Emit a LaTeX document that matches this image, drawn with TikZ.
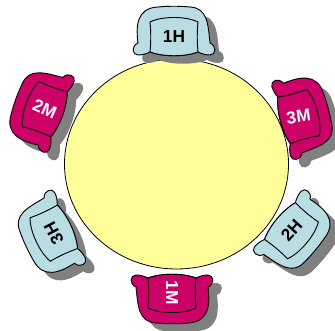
\documentclass[tikz,border=0pt]{standalone}
\usepackage{fontspec}
\setmainfont{Liberation Sans}
\usetikzlibrary{shapes.geometric}
\definecolor{tablefill}{HTML}{FFFF99}
\definecolor{seatblue}{HTML}{B8DEE4}
\definecolor{seatred}{HTML}{CC0066}
\definecolor{shadowgray}{HTML}{808080}
\newcommand{\chairoutline}{(-24,17) .. controls (-28,19) and (-32,20) .. (-36,20)
  .. controls (-42,20) and (-43,11) .. (-36,8)
  .. controls (-38,-8) and (-38,-27) .. (-16,-28)
  .. controls (-6,-29) and (6,-29) .. (16,-28)
  .. controls (34,-27) and (34,-10) .. (36,8)
  .. controls (43,11) and (42,20) .. (36,20)
  .. controls (32,20) and (28,19) .. (24,17)
  .. controls (10,22) and (-10,22) .. (-24,17) -- cycle}
\newcommand{\chairseat}{(-24,-13) .. controls (-12,-19) and (12,-19) .. (24,-13)
  .. controls (23,-3) and (23,7) .. (24,17)
  .. controls (10,22) and (-10,22) .. (-24,17)
  .. controls (-23,7) and (-23,-3) .. (-24,-13) -- cycle}

\begin{document}
\begin{tikzpicture}[x=0.75pt,y=-0.75pt,font=\bfseries\fontsize{13}{13}\selectfont]
  \tikzstyle{chairH}=[draw=black, line width=0.7pt, fill=seatblue]
  \tikzstyle{chairM}=[draw=black, line width=0.7pt, fill=seatred]
  \tikzstyle{chairshadow}=[fill=shadowgray, draw=none]
  \tikzstyle{textH}=[text=black, inner sep=0pt]
  \tikzstyle{textM}=[text=white, inner sep=0pt]
  \tikzstyle{roundtable}=[draw=black, line width=0.6pt, fill=tablefill, ellipse, minimum width=168pt, minimum height=157.5pt, inner sep=0pt]

  \path[use as bounding box] (0,0) rectangle (335,331);

  \node[roundtable] (table) at (176.5,164) {};

  % name/x/y/chair angle/text angle/label/kind
  \foreach \name/\px/\py/\rot/\txt/\lab/\kind in {
      oneH/174/35/0/0/1H/H,
      threeM/300.5/116/-75/8/3M/M,
      twoH/293/232/-130/48/2H/H,
      oneM/172/295/180/-90/1M/M,
      threeH/52/234/115/118/3H/H,
      twoM/43/108.5/70/-24/2M/M} {
    \begin{scope}[shift={(\px+9,\py+8)},rotate=\rot]
      \path[chairshadow] \chairoutline;
    \end{scope}
    \begin{scope}[shift={(\px,\py)},rotate=\rot]
      \path[chair\kind] \chairoutline;
      \path[chair\kind] \chairseat;
      \node[text\kind, rotate=\txt] (\name) at (0,2) {\lab};
    \end{scope}
  }
\end{tikzpicture}
\end{document}
